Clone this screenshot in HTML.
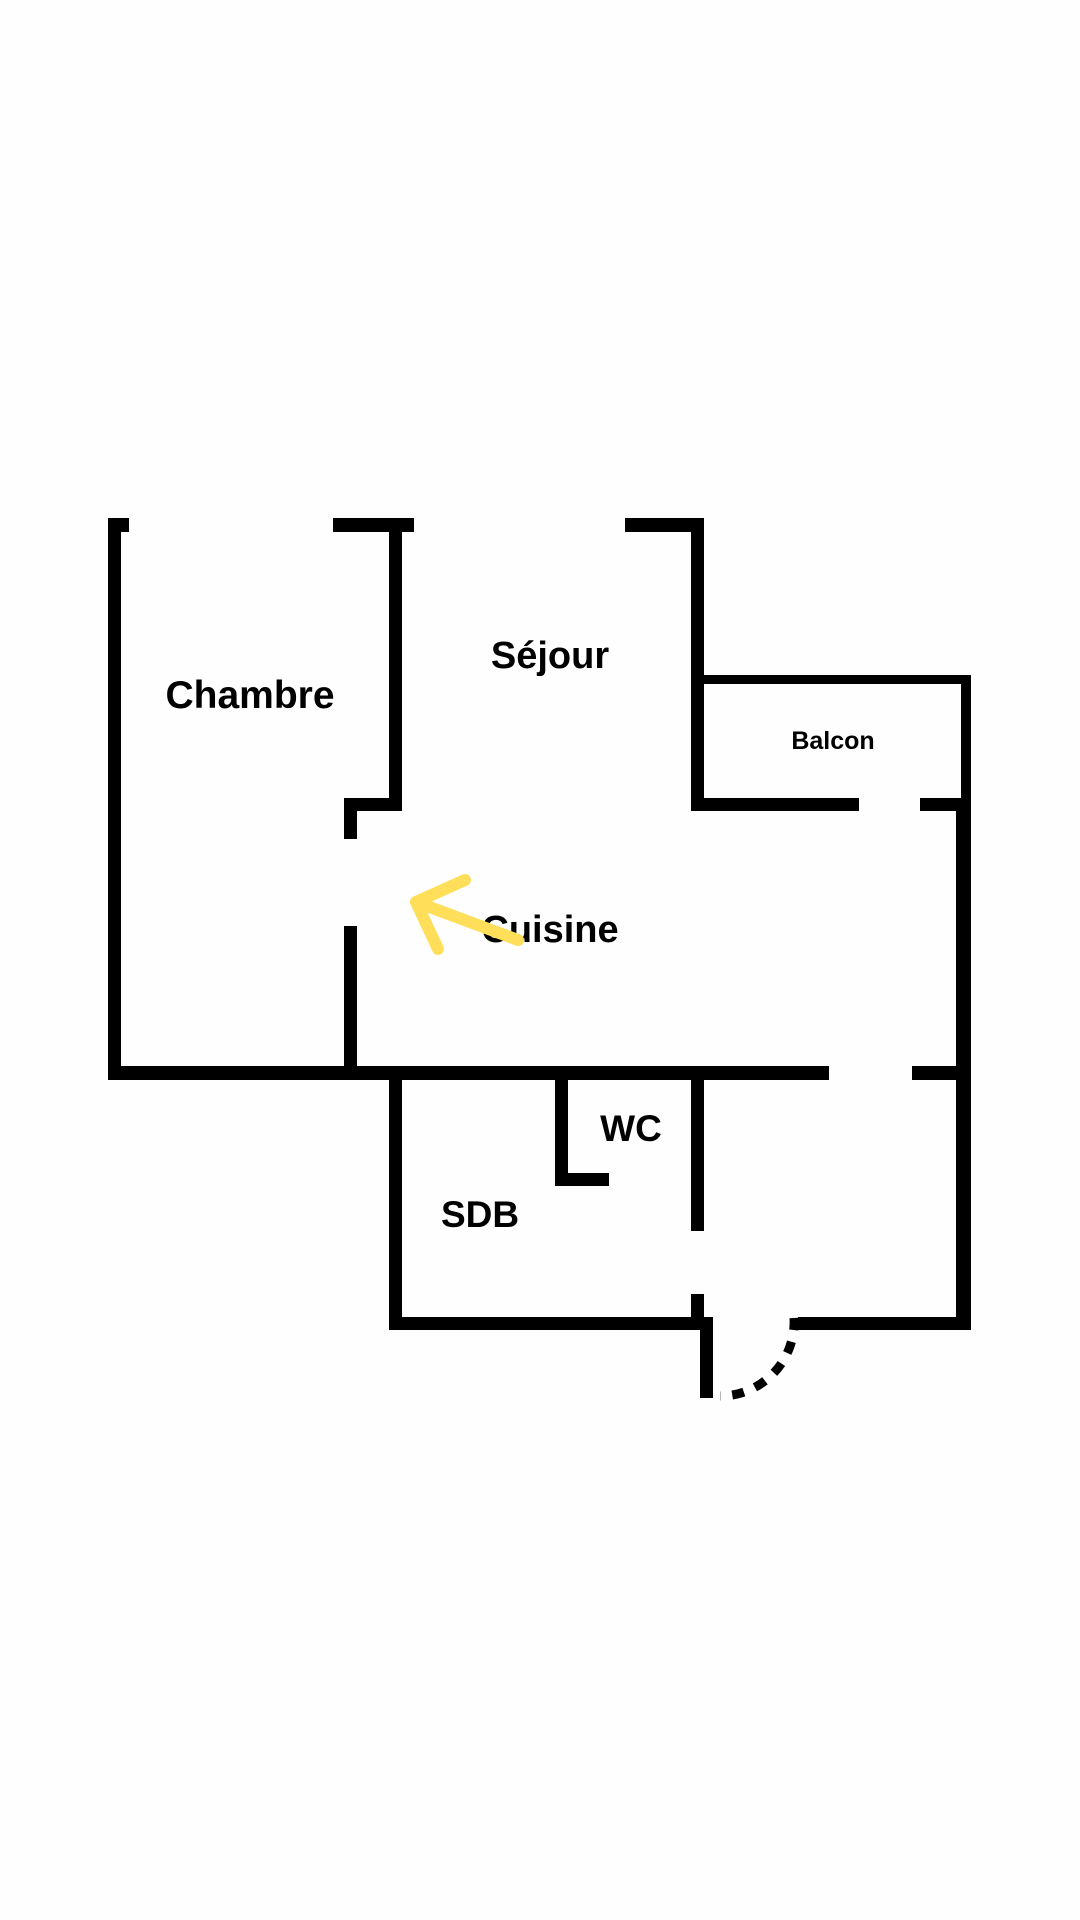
<!DOCTYPE html>
<html><head><meta charset="utf-8"><style>
html,body{margin:0;padding:0;background:#fff;}
svg{display:block;}
text{font-family:"Liberation Sans",sans-serif;font-weight:bold;fill:#000;text-anchor:middle;}
</style></head><body>
<svg width="1080" height="1920" viewBox="0 0 1080 1920" xmlns="http://www.w3.org/2000/svg">
<rect width="1080" height="1920" fill="#fefefe"/>
<g fill="#000">
<rect x="108" y="518" width="21" height="14"/>
<rect x="108" y="518" width="13" height="562"/>
<rect x="108" y="1066" width="721" height="14"/>
<rect x="912" y="1066" width="59" height="14"/>
<rect x="333" y="518" width="81" height="14"/>
<rect x="389" y="518" width="13" height="293"/>
<rect x="344" y="798" width="58" height="13"/>
<rect x="344" y="798" width="13" height="41"/>
<rect x="344" y="926" width="13" height="150"/>
<rect x="625" y="518" width="79" height="14"/>
<rect x="691" y="518" width="13" height="293"/>
<rect x="691" y="675" width="280" height="9"/>
<rect x="961" y="675" width="10" height="136"/>
<rect x="691" y="798" width="168" height="13"/>
<rect x="920" y="798" width="51" height="13"/>
<rect x="956" y="798" width="15" height="532"/>
<rect x="389" y="1066" width="13" height="264"/>
<rect x="389" y="1317" width="324" height="13"/>
<rect x="555" y="1066" width="13" height="120"/>
<rect x="555" y="1173" width="54" height="13"/>
<rect x="691" y="1066" width="13" height="165"/>
<rect x="691" y="1294" width="13" height="26"/>
<rect x="700" y="1317" width="13" height="81"/>
<rect x="798" y="1317" width="173" height="13"/>
</g>
<path d="M 794 1318 A 74 74 0 0 1 720 1396" fill="none" stroke="#000" stroke-width="9" stroke-dasharray="12 12"/>
<text x="250" y="708" font-size="39">Chambre</text>
<text x="550" y="668" font-size="38">Séjour</text>
<text x="833" y="749" font-size="25">Balcon</text>
<text x="550" y="942" font-size="38">Cuisine</text>
<text x="631" y="1141" font-size="37">WC</text>
<text x="480" y="1227" font-size="37">SDB</text>
<g fill="none" stroke="#FFDF5A" stroke-width="12" stroke-linecap="round" stroke-linejoin="round">
<polyline points="518,940 416,902 465,880"/>
<line x1="416" y1="902" x2="438" y2="949"/>
</g>
</svg>
</body></html>
